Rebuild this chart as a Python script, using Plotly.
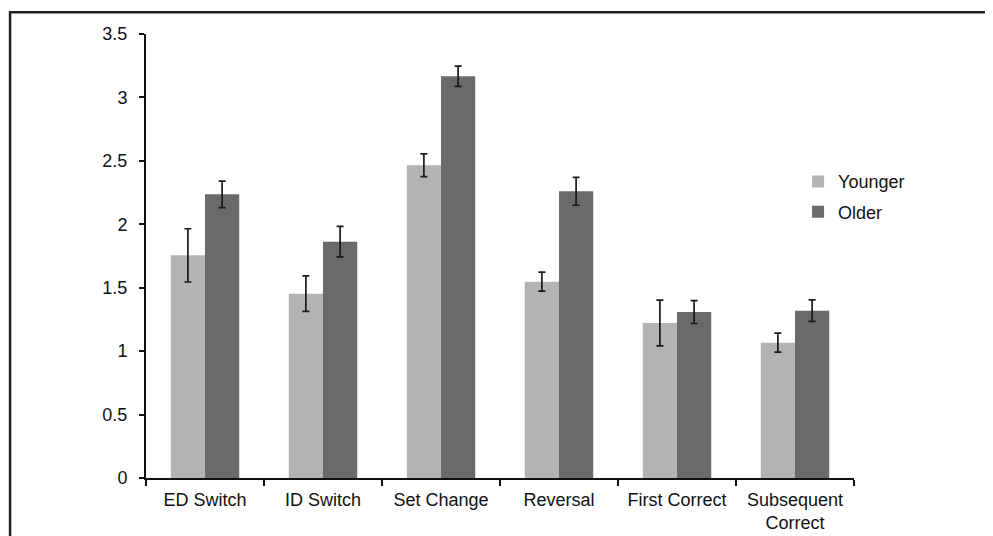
import plotly.graph_objects as go

categories = ["ED Switch", "ID Switch", "Set Change", "Reversal", "First Correct", "Subsequent<br>Correct"]
younger = [1.755, 1.453, 2.465, 1.548, 1.222, 1.067]
younger_err = [0.21, 0.14, 0.09, 0.075, 0.18, 0.075]
older = [2.236, 1.863, 3.167, 2.26, 1.308, 1.319]
older_err = [0.105, 0.12, 0.08, 0.11, 0.09, 0.085]
y_ticks = [0, 0.5, 1, 1.5, 2, 2.5, 3, 3.5]
y_ticklabels = ["0", "0.5", "1", "1.5", "2", "2.5", "3", "3.5"]

FONT = "Liberation Sans, Arial, sans-serif"

fig = go.Figure()
fig.add_trace(go.Bar(
    name="Younger", x=categories, y=younger, legendgroup="a",
    marker=dict(color="#b3b3b3", line=dict(width=0)),
    error_y=dict(type="data", array=younger_err, visible=True, color="#1a1a1a", thickness=1.7, width=3.5),
))
fig.add_trace(go.Bar(
    name="Older", x=categories, y=older, legendgroup="b",
    marker=dict(color="#6a6a6a", line=dict(width=0)),
    error_y=dict(type="data", array=older_err, visible=True, color="#1a1a1a", thickness=1.7, width=3.5),
))

fig.update_layout(
    width=993, height=536,
    margin=dict(l=138, r=147, t=26, b=66, pad=0, autoexpand=False),
    paper_bgcolor="white", plot_bgcolor="white",
    barmode="group", bargap=0.42, bargroupgap=0,
    font=dict(family=FONT, size=18, color="#111111"),
    showlegend=True,
    legend=dict(x=0.921, y=0.709, xanchor="left", yanchor="top",
                bgcolor="rgba(0,0,0,0)", tracegroupgap=4, traceorder="grouped",
                font=dict(size=18, family=FONT, color="#111111")),
    xaxis=dict(showline=True, linecolor="#111111", linewidth=2, ticks="outside",
               tickson="boundaries", ticklen=6, tickwidth=2, tickcolor="#111111",
               ticklabelstandoff=4, automargin=False,
               showgrid=False, zeroline=False),
    yaxis=dict(range=[0, 3.5], tickvals=y_ticks, ticktext=y_ticklabels,
               showline=True, linecolor="#111111", linewidth=2, ticks="outside",
               ticklen=5, tickwidth=2, tickcolor="#111111", ticklabelstandoff=8,
               automargin=False, showgrid=False, zeroline=False),
    shapes=[dict(type="path", xref="paper", yref="paper",
                 path="M -0.192,-0.2 L -0.192,1.049 L 1.25,1.049",
                 line=dict(color="#222222", width=2.5))],
)

fig.write_html("out.html")
